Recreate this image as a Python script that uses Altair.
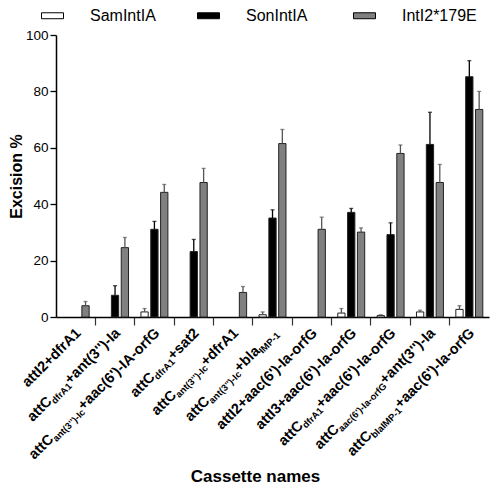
import altair as alt
import pandas as pd

# ---------------- data ----------------
series = ["SamIntIA", "SonIntIA", "IntI2*179E"]

# each cassette label as (text, is_subscript) segments
label_segments = [
    [("attI2+dfrA1", 0)],
    [("attC", 0), ("dfrA1", 1), ("+ant(3'')-Ia", 0)],
    [("attC", 0), ("ant(3'')-Ic", 1), ("+aac(6')-IA-orfG", 0)],
    [("attC", 0), ("dfrA1", 1), ("+sat2", 0)],
    [("attC", 0), ("ant(3'')-Ic", 1), ("+dfrA1", 0)],
    [("attC", 0), ("ant(3'')-Ic", 1), ("+bla", 0), ("IMP-1", 1)],
    [("attI2+aac(6')-Ia-orfG", 0)],
    [("attI3+aac(6')-Ia-orfG", 0)],
    [("attC", 0), ("dfrA1", 1), ("+aac(6')-Ia-orfG", 0)],
    [("attC", 0), ("aac(6')-Ia-orfG", 1), ("+ant(3'')-Ia", 0)],
    [("attC", 0), ("blaIMP-1", 1), ("+aac(6')-Ia-orfG", 0)],
]
categories = ["".join(t for t, _ in segs) for segs in label_segments]

sam_vals = [None, None, 1.8, None, None, 0.8, None, 1.4, 0.5, 1.8, 2.7]
sam_err = [None, None, 1.2, None, None, 1.0, None, 1.6, 0.3, 0.6, 1.3]
son_vals = [None, 7.7, 31.1, 23.2, None, 35.1, None, 37.1, 29.2, 61.2, 85.2]
son_err = [None, 3.4, 2.8, 4.3, None, 2.9, None, 1.4, 4.2, 11.4, 5.7]
e179_vals = [4.0, 24.6, 44.2, 47.7, 8.7, 61.5, 31.1, 30.1, 58.0, 47.7, 73.6]
e179_err = [1.5, 3.6, 2.8, 5.0, 2.1, 5.0, 4.3, 1.5, 3.0, 6.4, 6.4]

colors = ["#ffffff", "#000000", "#808080"]

# ---------------- style ----------------
W, H = 433, 282
FONT = "Liberation Sans, Arial, Helvetica, sans-serif"
MAIN_SIZE, SUB_SIZE = 14.5, 9.5
SUB_DROP = 3
LABEL_AX, LABEL_AY = 6, 17  # screen offset of label anchor from band centre / axis

# Helvetica-Bold / Arial-Bold advance widths (per 1000 em)
HB = {
    "a": 556, "b": 611, "c": 556, "d": 611, "e": 556, "f": 333, "g": 611, "i": 278,
    "l": 278, "m": 889, "n": 611, "o": 611, "p": 611, "r": 389, "s": 556, "t": 333,
    "A": 722, "C": 722, "G": 778, "I": 278, "M": 833, "P": 667,
    "+": 584, "(": 333, ")": 333, "-": 333, "'": 238,
}
for d in "0123456789":
    HB[d] = 556


def text_width(s, size):
    return sum(HB.get(c, 556) for c in s) * size / 1000.0


rows = []
vals = [sam_vals, son_vals, e179_vals]
errs = [sam_err, son_err, e179_err]
for s, v_list, e_list in zip(series, vals, errs):
    for c, v, e in zip(categories, v_list, e_list):
        if v is None:
            continue
        rows.append({"cat": c, "series": s, "value": v, "upper": v + e})
df = pd.DataFrame(rows)

shift = LABEL_AX * 0.7071
lab_rows = []
for c, segs in zip(categories, label_segments):
    widths = [text_width(t, SUB_SIZE if sub else MAIN_SIZE) for t, sub in segs]
    for i, (t, sub) in enumerate(segs):
        lab_rows.append({
            "cat": c, "text": t, "kind": "sub" if sub else "main",
            "dx": -sum(widths[i + 1:]) + shift,
            "dy": (SUB_DROP if sub else 0) + shift,
        })
df_lab = pd.DataFrame(lab_rows)

x_scale = alt.Scale(domain=categories, paddingInner=0, paddingOuter=0)
x_axis = alt.Axis(
    labels=False, title="Cassette names", bandPosition=0, tickSize=8,
    tickColor=alt.condition(f"datum.value == '{categories[0]}'", alt.value("transparent"), alt.value("#333")),
    tickWidth=1.2, domainColor="black", domainWidth=1.5,
    titleFont=FONT, titleFontSize=17, titleFontWeight="bold", titleColor="black",
    titleX=199, titleY=164, titleBaseline="alphabetic", titleAnchor="start", titleAlign="center",
)
y_scale = alt.Scale(domain=[0, 100])
y_axis = alt.Axis(
    values=[0, 20, 40, 60, 80, 100], title="Excision %", grid=False,
    tickSize=6, tickColor="black", tickWidth=1.3, domainColor="black", domainWidth=1.5,
    labelFont=FONT, labelFontSize=13.5, labelColor="black", labelPadding=2,
    titleFont=FONT, titleFontSize=16, titleFontWeight="bold", titleColor="black", titlePadding=1,
)
xo = alt.XOffset("series:N", scale=alt.Scale(domain=series, paddingInner=0.26, paddingOuter=0.63))
X = alt.X("cat:N", scale=x_scale, axis=x_axis)

base = alt.Chart(df)

bars = base.mark_bar(stroke="#222", strokeWidth=1).encode(
    x=X, xOffset=xo,
    y=alt.Y("value:Q", scale=y_scale, axis=y_axis),
    color=alt.Color(
        "series:N",
        scale=alt.Scale(domain=series, range=colors),
        legend=alt.Legend(
            title=None, orient="none", legendX=-15, legendY=-31, direction="horizontal",
            columns=3, gridAlign="all", columnPadding=30, padding=0,
            symbolType="M-1,-0.27H1V0.27H-1Z", symbolSize=484,
            symbolStrokeColor="black", symbolStrokeWidth=1, symbolOpacity=1,
            labelFont=FONT, labelFontSize=16, labelColor="black", labelOffset=26,
        ),
    ),
)

whisk_color = alt.condition(alt.datum.series == "SonIntIA", alt.value("black"), alt.value("#555"))
whiskers = base.mark_rule(strokeWidth=1.3).encode(
    x=X, xOffset=xo,
    y=alt.Y("value:Q", scale=y_scale, axis=y_axis), y2="upper:Q",
    stroke=whisk_color,
)
caps = base.mark_tick(orient="horizontal", size=4, thickness=1.3).encode(
    x=X, xOffset=xo,
    y=alt.Y("upper:Q", scale=y_scale, axis=y_axis),
    color=whisk_color,
)

lab_base = alt.Chart(df_lab)
main_labels = lab_base.transform_filter(alt.datum.kind == "main").mark_text(
    angle=315, align="right", baseline="alphabetic", font=FONT, fontWeight="bold",
    fontSize=MAIN_SIZE, color="black", dx=alt.expr("datum.dx"), dy=alt.expr("datum.dy"),
).encode(x=X, y=alt.value(H + LABEL_AY), text="text:N")
sub_labels = lab_base.transform_filter(alt.datum.kind == "sub").mark_text(
    angle=315, align="right", baseline="alphabetic", font=FONT, fontWeight="bold",
    fontSize=SUB_SIZE, color="black", dx=alt.expr("datum.dx"), dy=alt.expr("datum.dy"),
).encode(x=X, y=alt.value(H + LABEL_AY), text="text:N")

chart = alt.layer(bars, whiskers, caps, main_labels, sub_labels).properties(
    width=W, height=H,
    autosize=alt.AutoSizeParams(type="none"),
    padding={"left": 48, "top": 27, "right": 3, "bottom": 168},
).configure_view(stroke=None)

chart.save("out.html", embed_options={"renderer": "svg", "actions": False})
